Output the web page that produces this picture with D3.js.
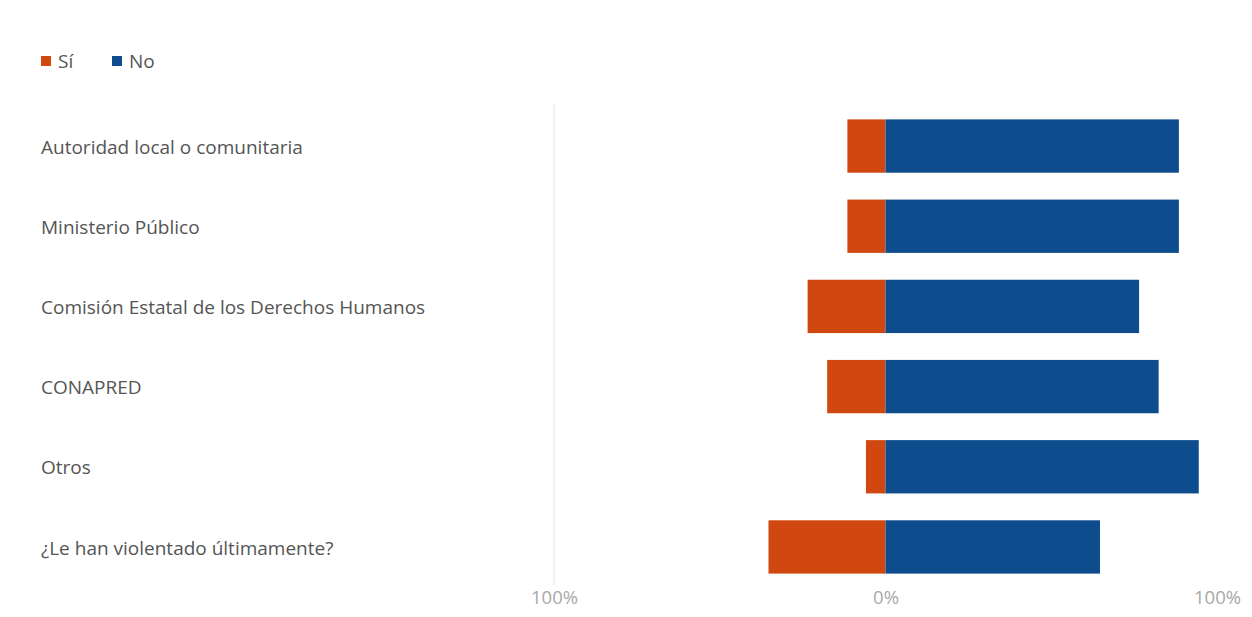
<!DOCTYPE html>
<html>
<head>
<meta charset="utf-8">
<script src="https://cdn.jsdelivr.net/npm/d3@7"></script>
<style>
  html, body { margin: 0; padding: 0; background: #fff; }
  svg { display: block; font-family: "Open Sans", "Noto Sans", sans-serif; }
</style>
</head>
<body>
<svg id="chart" width="1252" height="617"></svg>
<script>
// Categories (top to bottom) and percentages for each answer
const categories = [
  "Autoridad local o comunitaria",
  "Ministerio Público",
  "Comisión Estatal de los Derechos Humanos",
  "CONAPRED",
  "Otros",
  "¿Le han violentado últimamente?"
];
const siValues = [11.5, 11.5, 23.5, 17.6, 5.9, 35.3];
const noValues = [88.5, 88.5, 76.5, 82.4, 94.5, 64.7];
const seriesNames = ["Sí", "No"];
const seriesColors = ["#D0480F", "#0E4D8D"];
const tickValues = [-100, 0, 100];

const svg = d3.select("#chart");

const x = d3.scaleLinear().domain([-100, 100]).range([554, 1217]);
const y = d3.scaleBand().domain(categories).range([106, 587]).paddingInner(0.335).paddingOuter(0.167);

// Single faint gridline at the left extent
svg.append("line")
  .attr("x1", x(-100)).attr("x2", x(-100))
  .attr("y1", 105).attr("y2", 585)
  .attr("stroke", "#ececec").attr("stroke-width", 1.5);

// Category labels
svg.append("g").selectAll("text")
  .data(categories)
  .join("text")
  .attr("x", 41)
  .attr("y", d => y(d) + y.bandwidth() / 2 + 1)
  .attr("dy", "0.35em")
  .attr("font-size", 19)
  .attr("fill", "#555")
  .text(d => d);

// Diverging bars: "Sí" to the left of zero, "No" to the right
const rows = categories.map((c, i) => ({ c, si: siValues[i], no: noValues[i] }));

svg.append("g").selectAll("rect")
  .data(rows)
  .join("rect")
  .attr("x", d => x(-d.si))
  .attr("y", d => y(d.c))
  .attr("width", d => x(0) - x(-d.si))
  .attr("height", y.bandwidth())
  .attr("fill", seriesColors[0]);

svg.append("g").selectAll("rect")
  .data(rows)
  .join("rect")
  .attr("x", x(0))
  .attr("y", d => y(d.c))
  .attr("width", d => x(d.no) - x(0))
  .attr("height", y.bandwidth())
  .attr("fill", seriesColors[1]);

// Bottom axis with absolute percentage labels
const axis = d3.axisBottom(x)
  .tickValues(tickValues)
  .tickFormat(d => Math.abs(d) + "%")
  .tickSize(0)
  .tickPadding(0);

const gAxis = svg.append("g")
  .attr("transform", "translate(0,591)")
  .call(axis);
gAxis.select(".domain").remove();
gAxis.selectAll("text")
  .attr("font-size", 18.5)
  .attr("font-family", "\"Open Sans\", \"Noto Sans\", sans-serif")
  .attr("fill", "#a8a8a8");

// Legend
const legend = svg.append("g").attr("transform", "translate(41,61)");
const items = legend.selectAll("g")
  .data(seriesNames)
  .join("g")
  .attr("transform", (d, i) => `translate(${i * 71},0)`);
items.append("rect")
  .attr("x", 0).attr("y", -5)
  .attr("width", 10).attr("height", 10)
  .attr("fill", (d, i) => seriesColors[i]);
items.append("text")
  .attr("x", 17).attr("y", 0)
  .attr("dy", "0.35em")
  .attr("font-size", 19)
  .attr("fill", "#555")
  .text(d => d);
</script>
</body>
</html>
